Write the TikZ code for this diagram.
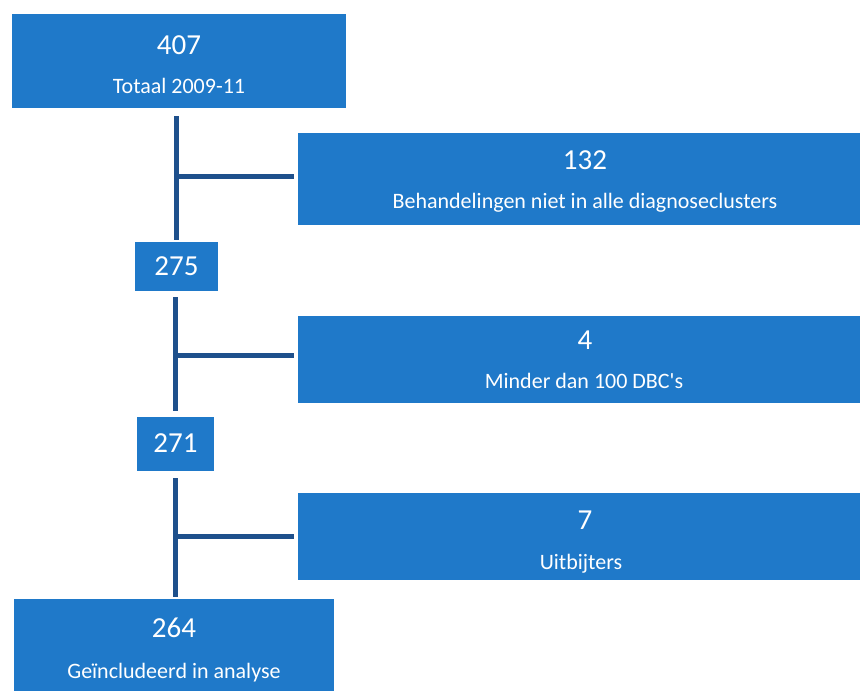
\documentclass[tikz,border=0pt]{standalone}
\usepackage{fontspec}
\setmainfont{Carlito}
\definecolor{boxblue}{RGB}{31,121,201}
\definecolor{linkblue}{RGB}{30,80,140}
\tikzset{
  stage/.style={rectangle, fill=boxblue, inner sep=0pt},
  num/.style={text=white, anchor=base, font=\fontsize{29}{32}\selectfont},
  lbl/.style={text=white, anchor=base, font=\fontsize{22}{26}\selectfont},
  link/.style={draw=linkblue, line width=5pt}
}
\begin{document}
\begin{tikzpicture}[x=1pt,y=-1pt]
    \clip (0,0) rectangle (860,691);
    \node[stage, minimum width=334pt, minimum height=94pt] (total) at (179,61) {};
    \node[num] (n407) at (179,54) {407};
    \node[lbl] (t407) at (179,93) {Totaal 2009-11};
    \node[stage, minimum width=577pt, minimum height=92pt] (excl1) at (586.5,179) {};
    \node[num] (n132) at (585,169) {132};
    \node[lbl] (t132) at (585,208) {Behandelingen niet in alle diagnoseclusters};
    \node[stage, minimum width=83pt, minimum height=49pt] (b275) at (176.5,266.5) {};
    \node[num] (n275) at (176.5,275) {275};
    \node[stage, minimum width=577pt, minimum height=87pt] (excl2) at (586.5,359.5) {};
    \node[num] (n4) at (585,349) {4};
    \node[lbl] (t4) at (584,388) {Minder dan 100 DBC\textquotesingle s};
    \node[stage, minimum width=77pt, minimum height=54pt] (b271) at (175.5,444) {};
    \node[num] (n271) at (175.5,452) {271};
    \node[stage, minimum width=577pt, minimum height=87pt] (excl3) at (586.5,536.5) {};
    \node[num] (n7) at (585,529) {7};
    \node[lbl] (t7) at (581,569) {Uitbijters};
    \node[stage, minimum width=320pt, minimum height=101pt] (final) at (174,649.5) {};
    \node[num] (n264) at (174,637) {264};
    \node[lbl] (t264) at (174,678) {Geïncludeerd in analyse};
    \coordinate (in1) at ([yshift=3pt]excl1.west);
    \coordinate (in2) at ([yshift=4pt]excl2.west);
    \coordinate (in3) at (excl3.west);
    \draw[link, shorten <=8pt, shorten >=2pt] (total.south -| b275) -- (b275.north);
    \draw[link, shorten >=4pt] (b275 |- in1) -- (in1);
    \draw[link, shorten <=6pt, shorten >=6pt] (b275.south -| b271) -- (b271.north);
    \draw[link, shorten >=4pt] (b271 |- in2) -- (in2);
    \draw[link, shorten <=7pt, shorten >=2pt] (b271.south) -- (b271.south |- final.north);
    \draw[link, shorten >=4pt] (b271 |- in3) -- (in3);
\end{tikzpicture}
\end{document}
